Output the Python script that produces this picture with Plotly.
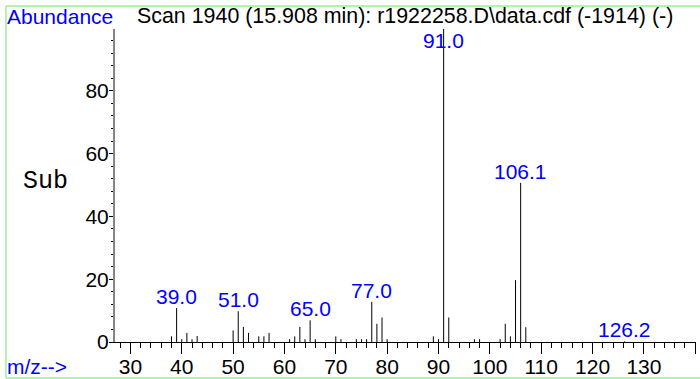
import plotly.graph_objects as go

# mass spectrum, scan 1940
mz = [38, 39, 40, 41, 42, 43, 50, 51, 52, 53, 55, 56, 57, 61, 62, 63, 64, 65, 66,
      70, 71, 74, 75, 76, 77, 78, 79, 80, 89, 90, 91, 92, 97, 98, 102, 103, 104,
      105, 106, 107, 126.2]
abundance = [1.8, 10.8, 0.9, 2.9, 0.9, 1.9, 3.7, 9.8, 4.8, 2.9, 1.8, 1.8, 2.9, 0.9,
             1.8, 4.8, 0.9, 6.9, 0.9, 1.8, 0.9, 0.9, 0.9, 0.9, 12.8, 5.8, 7.8, 0.9,
             1.8, 0.9, 100, 7.8, 0.9, 0.9, 0.9, 5.8, 1.8, 19.7, 50.7, 4.7, 0.2]
labelled = ["39.0", "51.0", "65.0", "77.0", "91.0", "106.1", "126.2"]
label_mz = [39, 51, 65, 77, 91, 106, 126.2]

title = "Scan 1940 (15.908 min): r1922258.D\\data.cdf (-1914) (-)"
FONT = "Liberation Sans, Arial, sans-serif"

W, H = 700, 379
L, R, T, B = 115, 4, 29, 37
pw, ph = W - L - R, H - T - B

def px(x):
    return (x - L) / pw

def py(y):
    return (H - B - y) / ph

xs, ys = [], []
for m, a in zip(mz, abundance):
    xs += [m, m, None]
    ys += [0, a, None]

fig = go.Figure()
fig.add_trace(go.Scatter(x=xs, y=ys, mode="lines", line=dict(color="black", width=1),
                         hoverinfo="skip", showlegend=False))

for txt, m in zip(labelled, label_mz):
    a = abundance[mz.index(m)]
    if a > 90:
        fig.add_annotation(x=m, y=99.7, text=txt, showarrow=False, yanchor="top", yshift=2,
                           font=dict(family=FONT, size=21, color="blue"))
    else:
        fig.add_annotation(x=m, y=a, text=txt, showarrow=False, yanchor="bottom", yshift=-2,
                           font=dict(family=FONT, size=21, color="blue"))

fig.add_annotation(xref="paper", yref="paper", x=px(5), y=py(16), text="Abundance",
                   showarrow=False, xanchor="left", yanchor="middle",
                   font=dict(family=FONT, size=21, color="blue"))
fig.add_annotation(xref="paper", yref="paper", x=px(135), y=py(16), text=title,
                   showarrow=False, xanchor="left", yanchor="middle",
                   font=dict(family=FONT, size=21.4, color="black"))
fig.add_annotation(xref="paper", yref="paper", x=px(21), y=py(181), text="Sub",
                   showarrow=False, xanchor="left", yanchor="middle",
                   font=dict(family="Courier New, Liberation Mono, monospace", size=25, color="black"))
fig.add_annotation(xref="paper", yref="paper", x=px(5), y=py(366), text="m/z-->",
                   showarrow=False, xanchor="left", yanchor="middle",
                   font=dict(family=FONT, size=21, color="blue"))

# light green frame (top, left, bottom)
green = dict(color="#98ee98", width=1.5)
fig.add_shape(type="line", xref="paper", yref="paper", x0=px(6), x1=px(700), y0=py(6), y1=py(6), line=green)
fig.add_shape(type="line", xref="paper", yref="paper", x0=px(6), x1=px(6), y0=py(6), y1=py(378), line=green)
fig.add_shape(type="line", xref="paper", yref="paper", x0=px(6), x1=px(700), y0=py(378), y1=py(378), line=green)

fig.update_xaxes(range=[27, 27 + pw / 5.135], showgrid=False, zeroline=False, automargin=False,
                 showline=True, linecolor="black", linewidth=1,
                 ticks="outside", tick0=0, dtick=10, ticklen=11, tickcolor="black",
                 minor=dict(ticks="outside", dtick=2, ticklen=5, tickcolor="black"),
                 ticklabeloverflow="hide past div", ticklabelstandoff=-5,
                 tickfont=dict(family=FONT, size=21, color="black"))
fig.update_yaxes(range=[0, 99.7], showgrid=False, zeroline=False, automargin=False,
                 showline=True, linecolor="#858585", linewidth=2,
                 ticks="outside", tick0=0, dtick=20, ticklen=4, tickcolor="black",
                 minor=dict(ticks="outside", dtick=4, ticklen=2, tickcolor="black"),
                 ticklabelstandoff=-4,
                 tickfont=dict(family=FONT, size=21, color="black"))

fig.update_layout(width=W, height=H, margin=dict(l=L, r=R, t=T, b=B),
                  plot_bgcolor="white", paper_bgcolor="white", showlegend=False)

# drop the page's default body margin so the figure sits at the window corner
fig.write_html("out.html", config={"displayModeBar": False},
               post_script="document.body.style.margin='0';")
